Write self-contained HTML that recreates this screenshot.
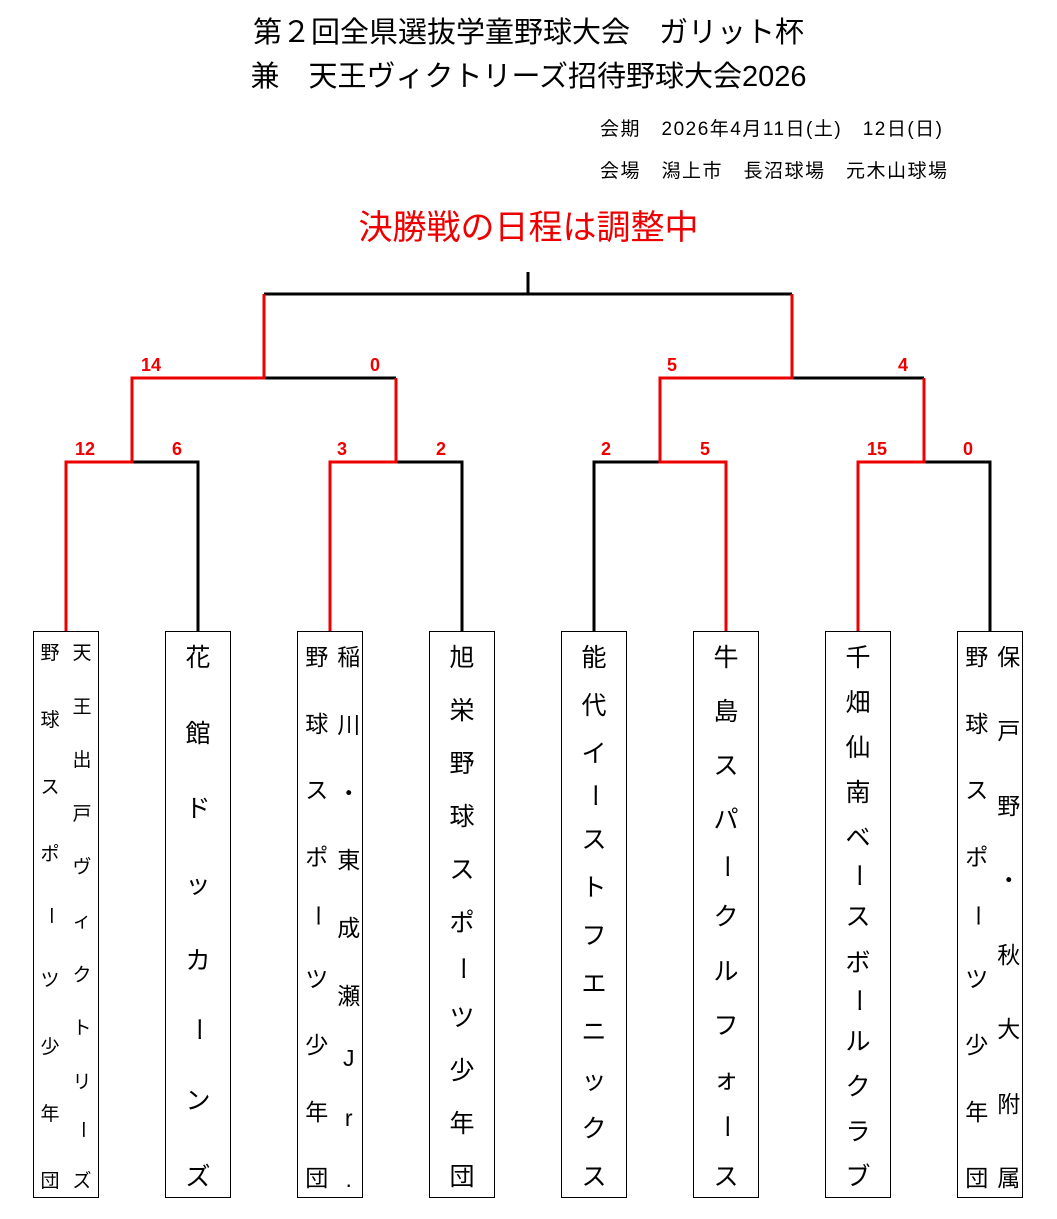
<!DOCTYPE html>
<html><head><meta charset="utf-8"><style>
body{margin:0;width:1057px;height:1219px;background:#fff;position:relative;font-family:"Liberation Sans","Noto Sans CJK JP",sans-serif;overflow:hidden}
.t{position:absolute;white-space:nowrap}
.box{position:absolute;top:631px;width:64px;height:565px;border:1px solid #000;display:flex;justify-content:space-around}
.col{display:flex;flex-direction:column;justify-content:space-between;align-items:center;padding:6px 0 4px}
.v{writing-mode:vertical-rl}
.s{position:absolute;color:#e00;font-weight:bold;font-size:18px;transform:translateX(-50%)}
</style></head><body>
<div class="t" style="left:0;width:1057px;text-align:center;top:11px;font-size:29px;line-height:44px">第２回全県選抜学童野球大会　ガリット杯<br>兼　天王ヴィクトリーズ招待野球大会2026</div>
<div class="t" style="left:600px;top:114px;font-size:19px;letter-spacing:1.5px">会期　2026年4月11日(土)　12日(日)</div>
<div class="t" style="left:600px;top:156px;font-size:19px;letter-spacing:1.5px">会場　潟上市　長沼球場　元木山球場</div>
<div class="t" style="left:0;width:1057px;text-align:center;top:200px;font-size:34px;color:#e00">決勝戦の日程は調整中</div>
<svg width="1057" height="1219" style="position:absolute;left:0;top:0" fill="none" stroke-width="3">
<g stroke="#000">
<path d="M528 272V294M264 294H792M264 378H396M792 378H924M132 462H198V631M396 462H462V631M594 631V462H660M924 462H990V631"/>
</g>
<g stroke="#e00">
<path d="M264 294V378H132V462H66V631M396 378V462H330V631M792 294V378H660V462H726V631M924 378V462H858V631"/>
</g>
</svg>
<div class="s" style="left:151px;top:355px">14</div><div class="s" style="left:375px;top:355px">0</div>
<div class="s" style="left:672px;top:355px">5</div><div class="s" style="left:903px;top:355px">4</div>
<div class="s" style="left:85px;top:439px">12</div><div class="s" style="left:177px;top:439px">6</div>
<div class="s" style="left:342px;top:439px">3</div><div class="s" style="left:441px;top:439px">2</div>
<div class="s" style="left:606px;top:439px">2</div><div class="s" style="left:705px;top:439px">5</div>
<div class="s" style="left:877px;top:439px">15</div><div class="s" style="left:968px;top:439px">0</div>

<div class="box" style="left:33px;font-size:19px"><div class="col"><span>野</span><span>球</span><span>ス</span><span>ポ</span><span class="v">ー</span><span>ツ</span><span>少</span><span>年</span><span>団</span></div><div class="col"><span>天</span><span>王</span><span>出</span><span>戸</span><span>ヴ</span><span>ィ</span><span>ク</span><span>ト</span><span>リ</span><span class="v">ー</span><span>ズ</span></div></div>
<div class="box" style="left:165px;font-size:25px"><div class="col"><span>花</span><span>館</span><span>ド</span><span>ッ</span><span>カ</span><span class="v">ー</span><span>ン</span><span>ズ</span></div></div>
<div class="box" style="left:297px;font-size:23px"><div class="col"><span>野</span><span>球</span><span>ス</span><span>ポ</span><span class="v">ー</span><span>ツ</span><span>少</span><span>年</span><span>団</span></div><div class="col"><span>稲</span><span>川</span><span>・</span><span>東</span><span>成</span><span>瀬</span><span>J</span><span>r</span><span>.</span></div></div>
<div class="box" style="left:429px;font-size:25px"><div class="col"><span>旭</span><span>栄</span><span>野</span><span>球</span><span>ス</span><span>ポ</span><span class="v">ー</span><span>ツ</span><span>少</span><span>年</span><span>団</span></div></div>
<div class="box" style="left:561px;font-size:25px"><div class="col"><span>能</span><span>代</span><span>イ</span><span class="v">ー</span><span>ス</span><span>ト</span><span>フ</span><span>エ</span><span>ニ</span><span>ッ</span><span>ク</span><span>ス</span></div></div>
<div class="box" style="left:693px;font-size:25px"><div class="col"><span>牛</span><span>島</span><span>ス</span><span>パ</span><span class="v">ー</span><span>ク</span><span>ル</span><span>フ</span><span>ォ</span><span class="v">ー</span><span>ス</span></div></div>
<div class="box" style="left:825px;font-size:25px"><div class="col"><span>千</span><span>畑</span><span>仙</span><span>南</span><span>ベ</span><span class="v">ー</span><span>ス</span><span>ボ</span><span class="v">ー</span><span>ル</span><span>ク</span><span>ラ</span><span>ブ</span></div></div>
<div class="box" style="left:957px;font-size:23px"><div class="col"><span>野</span><span>球</span><span>ス</span><span>ポ</span><span class="v">ー</span><span>ツ</span><span>少</span><span>年</span><span>団</span></div><div class="col"><span>保</span><span>戸</span><span>野</span><span>・</span><span>秋</span><span>大</span><span>附</span><span>属</span></div></div>
</body></html>
